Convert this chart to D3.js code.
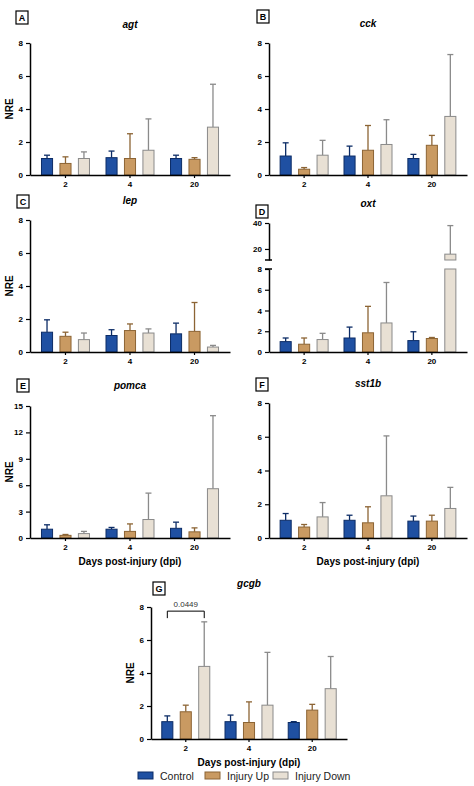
<!DOCTYPE html>
<html><head><meta charset="utf-8">
<script src="https://cdn.jsdelivr.net/npm/d3@7"></script>
<style>
body{margin:0;background:#fff;font-family:Arial,"Liberation Sans",sans-serif;}
text{font-family:Arial,"Liberation Sans",sans-serif;}
</style></head>
<body><svg id="fig" width="474" height="786"></svg>
<script>
var days = ["2", "4", "20"];
var groups = ["Control", "Injury Up", "Injury Down"];
var fills = ["#1f50a2", "#c99a62", "#e8e0d4"];
var strokes = ["#0c2c66", "#8c6434", "#8a8a8a"];

// mean and upper error per day, per group order
var agtMean = [[1.0, 0.7, 1.0], [1.05, 1.0, 1.5], [1.0, 0.95, 2.9]];
var agtErr  = [[1.2, 1.1, 1.4], [1.45, 2.5, 3.4], [1.2, 1.05, 5.5]];
var cckMean = [[1.15, 0.35, 1.2], [1.15, 1.5, 1.85], [1.0, 1.8, 3.55]];
var cckErr  = [[1.95, 0.45, 2.1], [1.75, 3.0, 3.35], [1.25, 2.4, 7.3]];
var lepMean = [[1.2, 0.95, 0.75], [1.0, 1.3, 1.15], [1.1, 1.25, 0.3]];
var lepErr  = [[1.95, 1.2, 1.15], [1.35, 1.7, 1.4], [1.75, 3.0, 0.4]];
var oxtMean = [[1.0, 0.75, 1.2], [1.35, 1.85, 2.8], [1.1, 1.3, 16]];
var oxtErr  = [[1.35, 1.35, 1.8], [2.4, 4.4, 6.7], [1.95, 1.4, 38]];
var pomcaMean = [[1.0, 0.3, 0.5], [1.0, 0.75, 2.1], [1.1, 0.7, 5.6]];
var pomcaErr  = [[1.5, 0.4, 0.75], [1.2, 1.6, 5.1], [1.8, 1.15, 13.9]];
var sstMean = [[1.05, 0.65, 1.25], [1.05, 0.9, 2.5], [1.0, 1.0, 1.75]];
var sstErr  = [[1.45, 0.8, 2.1], [1.35, 1.85, 6.05], [1.3, 1.35, 3.0]];
var gcgMean = [[1.05, 1.65, 4.4], [1.05, 1.0, 2.05], [1.0, 1.75, 3.05]];
var gcgErr  = [[1.4, 2.05, 7.1], [1.45, 2.25, 5.25], [1.05, 2.1, 5.0]];
var ticks8 = [0, 2, 4, 6, 8];
var ticks15 = [0, 3, 6, 9, 12, 15];
var oxtUpperTicks = [20, 40];

var svg = d3.select("#fig");

function panel(p) {
    var g = svg.append("g");
    var x = d3.scaleBand().domain(days).range([p.x0, p.x1]).paddingInner(0.1).paddingOuter(0.1);
    var off = d3.scaleBand().domain(groups).range([-24, 24]).paddingInner(0.4);
    var y = d3.scaleLinear().domain([0, p.max]).range([p.y0, p.y1]);
    var yU = null;
    if (p.brk) yU = d3.scaleLinear().domain([11.5, 40]).range([p.brk[0], p.y1u]);
    function Y(v) { return (yU && v > p.max) ? yU(v) : y(v); }

    // label box + title
    g.append("rect").attr("x", p.lx).attr("y", p.ly).attr("width", 12).attr("height", 13)
        .attr("fill", "#fff").attr("stroke", "#000").attr("stroke-width", 1.2);
    g.append("text").attr("x", p.lx + 6).attr("y", p.ly + 10).attr("text-anchor", "middle")
        .style("font-size", "9px").style("font-weight", "bold").text(p.letter);
    g.append("text").attr("x", (p.x0 + p.x1) / 2).attr("y", p.ty).attr("text-anchor", "middle")
        .style("font-size", "10px").style("font-weight", "bold").style("font-style", "italic").text(p.name);

    var data = [];
    days.forEach(function(d, i) {
        groups.forEach(function(k, j) { data.push({day: d, grp: k, j: j, m: p.mean[i][j], e: p.err[i][j]}); });
    });
    data.forEach(function(d) {
        var cx = x(d.day) + x.bandwidth() / 2 + off(d.grp) + off.bandwidth() / 2;
        var bw = off.bandwidth();
        g.append("line").attr("x1", cx).attr("x2", cx).attr("y1", Y(d.m)).attr("y2", Y(d.e))
            .attr("stroke", strokes[d.j]).attr("stroke-width", 1.3);
        g.append("line").attr("x1", cx - 3).attr("x2", cx + 3).attr("y1", Y(d.e)).attr("y2", Y(d.e))
            .attr("stroke", strokes[d.j]).attr("stroke-width", 1.3);
        if (yU && d.m > p.max) {
            g.append("rect").attr("x", cx - bw / 2).attr("y", y(p.max)).attr("width", bw).attr("height", y(0) - y(p.max))
                .attr("fill", fills[d.j]).attr("stroke", strokes[d.j]).attr("stroke-width", 1);
            g.append("rect").attr("x", cx - bw / 2).attr("y", yU(d.m)).attr("width", bw).attr("height", p.brk[0] - yU(d.m))
                .attr("fill", fills[d.j]).attr("stroke", strokes[d.j]).attr("stroke-width", 1);
        } else {
            g.append("rect").attr("x", cx - bw / 2).attr("y", y(d.m)).attr("width", bw).attr("height", y(0) - y(d.m))
                .attr("fill", fills[d.j]).attr("stroke", strokes[d.j]).attr("stroke-width", 1);
        }
    });

    g.append("g").attr("transform", "translate(" + p.x0 + ",0)")
        .call(d3.axisLeft(y).tickValues(p.ticks).tickSize(4).tickSizeOuter(0).tickFormat(d3.format("d")));
    if (yU) {
        g.append("g").attr("transform", "translate(" + p.x0 + ",0)")
            .call(d3.axisLeft(yU).tickValues(oxtUpperTicks).tickSize(4).tickSizeOuter(0));
        g.append("line").attr("x1", p.x0 - 4).attr("x2", p.x0 + 3).attr("y1", p.brk[0]).attr("y2", p.brk[0]).attr("stroke", "#000").attr("stroke-width", 1.5);
        g.append("line").attr("x1", p.x0 - 4).attr("x2", p.x0 + 3).attr("y1", p.y1).attr("y2", p.y1).attr("stroke", "#000").attr("stroke-width", 1.5);
    }
    g.append("g").attr("transform", "translate(0," + p.y0 + ")")
        .call(d3.axisBottom(x).tickSize(3).tickSizeOuter(0));
    g.selectAll(".domain").attr("stroke", "#000").attr("stroke-width", 1.5);
    g.selectAll(".tick text").style("font-size", "8px").style("font-weight", "bold").attr("fill", "#000");
    g.selectAll(".tick line").attr("stroke", "#000").attr("stroke-width", 1.2);

    if (p.nre) {
        g.append("text").attr("transform", "translate(" + (p.x0 - 17) + "," + ((p.y0 + p.y1) / 2) + ") rotate(-90)")
            .attr("text-anchor", "middle").style("font-size", "10px").style("font-weight", "bold").text("NRE");
    }
    if (p.xt) {
        g.append("text").attr("x", (p.x0 + p.x1) / 2).attr("y", p.y0 + 27).attr("text-anchor", "middle")
            .style("font-size", "10px").style("font-weight", "bold").text("Days post-injury (dpi)");
    }
    return {x: x, y: y, off: off};
}

panel({letter: "A", name: "agt", lx: 16, ly: 11, ty: 28, x0: 30, x1: 230, y0: 175, y1: 43, max: 8, ticks: ticks8, mean: agtMean, err: agtErr, nre: true});
panel({letter: "B", name: "cck", lx: 257, ly: 10, ty: 27, x0: 269, x1: 467, y0: 175, y1: 43, max: 8, ticks: ticks8, mean: cckMean, err: cckErr});
panel({letter: "C", name: "lep", lx: 17, ly: 195, ty: 204, x0: 30, x1: 230, y0: 352, y1: 220, max: 8, ticks: ticks8, mean: lepMean, err: lepErr, nre: true});
panel({letter: "D", name: "oxt", lx: 256, ly: 205, ty: 207, x0: 269, x1: 467, y0: 352, y1: 269, max: 8, ticks: ticks8, mean: oxtMean, err: oxtErr, brk: [260], y1u: 223});
panel({letter: "E", name: "pomca", lx: 17, ly: 379, ty: 389, x0: 30, x1: 230, y0: 538, y1: 406, max: 15, ticks: ticks15, mean: pomcaMean, err: pomcaErr, nre: true, xt: true});
panel({letter: "F", name: "sst1b", lx: 256, ly: 378, ty: 387, x0: 269, x1: 467, y0: 538, y1: 403, max: 8, ticks: ticks8, mean: sstMean, err: sstErr, xt: true});
var pg = panel({letter: "G", name: "gcgb", lx: 153, ly: 582, ty: 587, x0: 151, x1: 347, y0: 739, y1: 607, max: 8, ticks: ticks8, mean: gcgMean, err: gcgErr, nre: true, xt: true});

// significance bracket in G: Control vs Injury Down at day 2
var cxA = pg.x("2") + pg.x.bandwidth() / 2 + pg.off("Control") + pg.off.bandwidth() / 2;
var cxB = pg.x("2") + pg.x.bandwidth() / 2 + pg.off("Injury Down") + pg.off.bandwidth() / 2;
var by = pg.y(7.75);
svg.append("path").attr("d", "M" + cxA + "," + (by + 7) + "V" + by + "H" + cxB + "V" + (by + 7))
    .attr("fill", "none").attr("stroke", "#000").attr("stroke-width", 1);
svg.append("text").attr("x", (cxA + cxB) / 2).attr("y", by - 4).attr("text-anchor", "middle")
    .style("font-size", "8px").attr("fill", "#333").text("0.0449");

// legend
var leg = svg.append("g").attr("transform", "translate(0,776)");
var lx = [138, 205, 273];
groups.forEach(function(k, j) {
    leg.append("rect").attr("x", lx[j]).attr("y", -4).attr("width", 15).attr("height", 7)
        .attr("fill", fills[j]).attr("stroke", strokes[j]).attr("stroke-width", 1);
    leg.append("text").attr("x", lx[j] + 22).attr("y", 4).style("font-size", "10.5px").attr("fill", "#222").text(k);
});
</script></body></html>
